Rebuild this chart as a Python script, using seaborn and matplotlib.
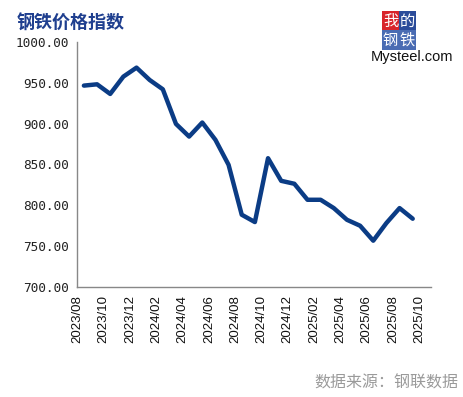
import numpy as np
import pandas as pd
import seaborn as sns
import matplotlib.pyplot as plt

# monthly steel price index, 2023/08 .. 2025/09
months = [f"{y}/{m:02d}" for y, m in
          [(2023, 8), (2023, 9), (2023, 10), (2023, 11), (2023, 12),
           (2024, 1), (2024, 2), (2024, 3), (2024, 4), (2024, 5), (2024, 6),
           (2024, 7), (2024, 8), (2024, 9), (2024, 10), (2024, 11), (2024, 12),
           (2025, 1), (2025, 2), (2025, 3), (2025, 4), (2025, 5), (2025, 6),
           (2025, 7), (2025, 8), (2025, 9)]]
index_values = [946.6, 948.2, 936.4, 957.6, 968.6, 953.5, 942.1, 899.7, 884.2,
                901.4, 880.2, 849.6, 788.5, 779.5, 857.7, 830.0, 826.4, 806.8,
                806.8, 796.6, 782.3, 775.0, 756.7, 778.3, 796.6, 783.6]
tick_labels = ["2023/08", "2023/10", "2023/12", "2024/02", "2024/04", "2024/06",
               "2024/08", "2024/10", "2024/12", "2025/02", "2025/04", "2025/06",
               "2025/08", "2025/10"]
y_ticks = [700, 750, 800, 850, 900, 950, 1000]

df = pd.DataFrame({"month": months, "value": index_values})
# categories sit between tick marks
df["pos"] = np.arange(len(df)) + 0.5

sns.set_style("white")
plt.rcParams['font.family'] = ['Liberation Sans', 'DejaVu Sans']

fig = plt.figure(figsize=(4.63, 3.97), dpi=100)
ax = fig.add_axes([0.167, 0.2771, 0.7633, 0.6171])

sns.lineplot(data=df, x="pos", y="value", ax=ax, color="#0b3c85", linewidth=3.2)

ax.set_xlim(0, len(df) + 0.87)
ax.set_ylim(700, 1000)
ax.set_xticks(np.arange(0, len(tick_labels) * 2, 2))
ax.set_xticklabels(tick_labels, rotation=90, fontsize=9.5, color="#111111")
ax.set_yticks(y_ticks)
ax.set_yticklabels([f"{v:.2f}" for v in y_ticks], fontsize=9.2,
                   family=['DejaVu Sans Mono'], color="#222222")
ax.set_xlabel("")
ax.set_ylabel("")

for side in ["top", "right"]:
    ax.spines[side].set_visible(False)
for side in ["left", "bottom"]:
    ax.spines[side].set_color("#888888")
    ax.spines[side].set_linewidth(1.0)
ax.tick_params(axis="both", direction="out", length=4, width=1, color="#888888", pad=2)

# title
fig.text(17 / 463, 1 - 23 / 397, "钢铁价格指数", fontsize=13, fontweight="bold",
         color="#1f3f8f", family=['Noto Sans CJK SC'], va="center", ha="left")

# logo
logo = [("我", 383, 12, "#d8242b"), ("的", 400, 12, "#2b4c9a"),
        ("钢", 383, 31, "#4a6cb3"), ("铁", 400, 31, "#4a6cb3")]
for ch, x, y, c in logo:
    fig.text(x / 463, 1 - (y + 9) / 397, ch, fontsize=11, color="white",
             family=['Noto Sans CJK SC'], ha="left", va="center",
             bbox=dict(boxstyle="square,pad=0.08", facecolor=c, edgecolor="none"))
fig.text(412 / 463, 1 - 57 / 397, "Mysteel.com", fontsize=10.5, color="#111111",
         ha="center", va="center")

# source
fig.text(458 / 463, 1 - 383 / 397, "数据来源：钢联数据", fontsize=11.5, color="#9a9a9a",
         family=['Noto Sans CJK SC'], ha="right", va="center")

plt.savefig("out.png", dpi=100)
